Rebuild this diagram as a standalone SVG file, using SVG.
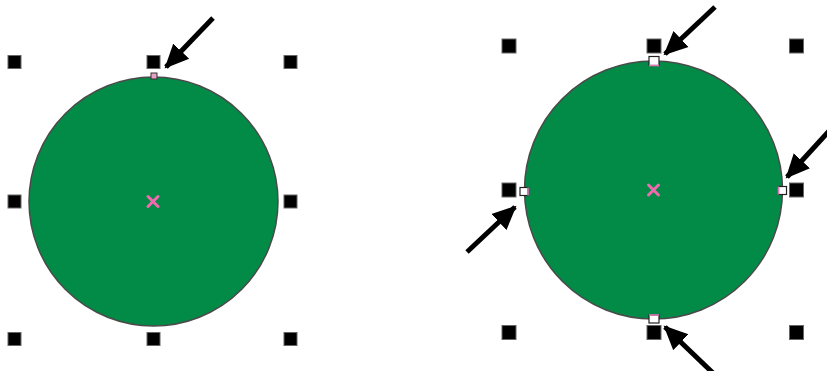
<svg xmlns="http://www.w3.org/2000/svg" width="827" height="371" viewBox="0 0 827 371">
<style>
.circ{fill:#028B46;stroke:#4a4a4a;stroke-width:1.5}
.h{fill:#000;stroke:#666;stroke-width:1}
.x{stroke:#F06AB0;stroke-width:3;stroke-linecap:round}
.n{fill:#fff;stroke:#222;stroke-width:1.2}
.p{stroke:#E07AB8;stroke-width:1.6}
.arr{stroke:#000;stroke-width:5;fill:none}
</style>
<defs>
<marker id="ah" markerUnits="userSpaceOnUse" markerWidth="26" markerHeight="24" refX="22" refY="12" orient="auto">
<polygon points="0,1 24,12 0,23" fill="#000"/>
</marker>
</defs>
<rect width="827" height="371" fill="#fff"/>
<g id="circle-left">
<circle class="circ" cx="153.5" cy="201.5" r="124.5"/>
<path class="x" d="M148,196.5 L158,206.5 M158,196.5 L148,206.5"/>
<rect x="151" y="73" width="6" height="6" fill="#E8A0C8" stroke="#333" stroke-width="1"/>
</g>
<g id="handles-left">
<rect class="h" x="8" y="55.5" width="13" height="13"/>
<rect class="h" x="147" y="55.5" width="13" height="13"/>
<rect class="h" x="284" y="55.5" width="13" height="13"/>
<rect class="h" x="8" y="195" width="13" height="13"/>
<rect class="h" x="284" y="195" width="13" height="13"/>
<rect class="h" x="8" y="332.5" width="13" height="13"/>
<rect class="h" x="147" y="332.5" width="13" height="13"/>
<rect class="h" x="284" y="332.5" width="13" height="13"/>
</g>
<g id="circle-right">
<circle class="circ" cx="653.5" cy="190" r="129"/>
<path class="x" d="M648.5,185 L658.5,195 M658.5,185 L648.5,195"/>
<rect class="n" x="649" y="56.5" width="10" height="9"/>
<line class="p" x1="649" y1="65.5" x2="659" y2="65.5"/>
<rect class="n" x="520" y="187.5" width="8" height="8"/>
<line class="p" x1="528" y1="187.5" x2="528" y2="195.5"/>
<rect class="n" x="778.5" y="186.5" width="8" height="8"/>
<line class="p" x1="778.5" y1="186.5" x2="778.5" y2="194.5"/>
<rect class="n" x="649" y="315" width="10" height="8"/>
<line class="p" x1="649" y1="315" x2="659" y2="315"/>
</g>
<g id="handles-right">
<rect class="h" x="502" y="39" width="14" height="14"/>
<rect class="h" x="647" y="39" width="14" height="14"/>
<rect class="h" x="789.5" y="39" width="14" height="14"/>
<rect class="h" x="502" y="183" width="14" height="14"/>
<rect class="h" x="789.5" y="183" width="14" height="14"/>
<rect class="h" x="502" y="325.5" width="14" height="14"/>
<rect class="h" x="647" y="325.5" width="14" height="14"/>
<rect class="h" x="789.5" y="325.5" width="14" height="14"/>
</g>
<g id="connectors">
<line class="arr" x1="213" y1="18" x2="166" y2="67" marker-end="url(#ah)"/>
<line class="arr" x1="715" y1="7" x2="665" y2="54" marker-end="url(#ah)"/>
<line class="arr" x1="467" y1="252" x2="515" y2="207" marker-end="url(#ah)"/>
<line class="arr" x1="830" y1="130" x2="787" y2="177" marker-end="url(#ah)"/>
<line class="arr" x1="714" y1="374" x2="665" y2="327" marker-end="url(#ah)"/>
</g>
</svg>
